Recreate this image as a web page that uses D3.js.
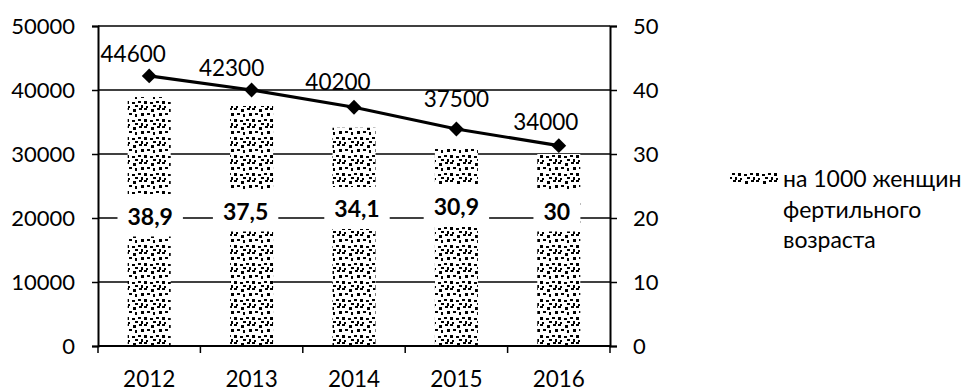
<!DOCTYPE html>
<html><head><meta charset="utf-8">
<script src="https://cdn.jsdelivr.net/npm/d3@7"></script>
<style>body{margin:0;background:#fff}svg{display:block}</style>
</head><body>
<svg id="c" width="965" height="391"></svg>
<script>
const years = ["2012", "2013", "2014", "2015", "2016"];
// births: marker positions as drawn; birthLabels: printed data labels
const births = [42200, 40000, 37300, 33900, 31300];
const birthLabels = [44600, 42300, 40200, 37500, 34000];
// rate per 1000 women of fertile age (bars, right axis)
const rate = [38.9, 37.5, 34.1, 30.9, 30];
const rateLabels = ["38,9", "37,5", "34,1", "30,9", "30"];
const leftTicks = [0, 10000, 20000, 30000, 40000, 50000];
const rightTicks = [0, 10, 20, 30, 40, 50];
const legendLines = ["на 1000 женщин", "фертильного", "возраста"];

const FONT = "Lato, 'Open Sans', sans-serif";
const svg = d3.select("#c");
const L = 98, R = 610, T = 26, B = 346;

const x = d3.scaleBand().domain(years).range([L, R]).paddingInner(0.58).paddingOuter(0.29);
const yL = d3.scaleLinear().domain([0, 50000]).range([B, T]);
const yR = d3.scaleLinear().domain([0, 50]).range([B, T]);
const cx = d => x(d) + x.bandwidth() / 2;

// pattern (confetti)
const defs = svg.append("defs");
const pat = defs.append("pattern").attr("id", "conf").attr("patternUnits", "userSpaceOnUse")
  .attr("width", 18).attr("height", 18);
pat.append("rect").attr("width", 18).attr("height", 18).attr("fill", "#fff");
[[0,0,3,2],[7,1,3,3],[13,0,3,2],[3,5,3,2],[9,6,2,3],[15,5,3,3],
 [0,11,3,3],[6,12,3,2],[12,11,3,2],[2,16,2,2],[9,15,3,2],[15,15,2,3]].forEach(r =>
  pat.append("rect").attr("x", r[0]).attr("y", r[1]).attr("width", r[2]).attr("height", r[3]).attr("fill", "#000"));

// gridlines
svg.append("g").selectAll("line").data(leftTicks.filter(t => t > 0)).join("line")
  .attr("x1", L).attr("x2", R).attr("y1", d => yL(d)).attr("y2", d => yL(d))
  .attr("stroke", "#000").attr("stroke-width", 1.3);

// bars
svg.append("g").selectAll("rect").data(rate).join("rect")
  .attr("x", (d, i) => x(years[i])).attr("width", x.bandwidth())
  .attr("y", d => yR(d)).attr("height", d => B - yR(d))
  .attr("fill", "url(#conf)");

// axes
const axL = svg.append("g").attr("transform", `translate(${L},0)`)
  .call(d3.axisLeft(yL).tickValues(leftTicks).tickSize(6).tickPadding(17).tickFormat(d3.format("d")));
const axR = svg.append("g").attr("transform", `translate(${R},0)`)
  .call(d3.axisRight(yR).tickValues(rightTicks).tickSize(7).tickPadding(16).tickFormat(d3.format("d")));
const axB = svg.append("g").attr("transform", `translate(0,${B})`)
  .call(d3.axisBottom(x).tickSize(0).tickPadding(25));
[axL, axR, axB].forEach(g => {
  g.select(".domain").attr("stroke", "#000").attr("stroke-width", 2);
  g.selectAll(".tick line").attr("stroke", "#000").attr("stroke-width", 1.5);
  g.selectAll("text").attr("font-family", FONT).attr("font-size", 22).attr("fill", "#000");
});
axB.selectAll("text").attr("font-size", 22.5);
axB.select(".domain").attr("d", `M${L},0H${R}`);
const bounds = years.map(d => x(d) - (x.step() - x.bandwidth()) / 2).concat([R]);
svg.append("g").selectAll("line").data(bounds).join("line")
  .attr("x1", d => d).attr("x2", d => d).attr("y1", B).attr("y2", B + 7)
  .attr("stroke", "#000").attr("stroke-width", 1.5);

// rate labels with white boxes
const rateDx = [1, -6, 3, 0, -2];
const rateDy = [-2.5, -7.5, -10, -12, -7.5];
const lg = svg.append("g");
rate.forEach((v, i) => {
  const g = lg.append("g");
  const t = g.append("text").text(rateLabels[i])
    .attr("x", cx(years[i]) + rateDx[i]).attr("y", yR(20) + rateDy[i])
    .attr("text-anchor", "middle").attr("dominant-baseline", "central")
    .attr("font-family", FONT).attr("font-weight", "bold").attr("font-size", 23);
  const bb = t.node().getBBox();
  g.insert("rect", "text").attr("x", bb.x - 10).attr("width", bb.width + 20)
    .attr("y", yR(20) + rateDy[i] - 21).attr("height", 42).attr("fill", "#fff");
});

// line
const pts = births.map((v, i) => [cx(years[i]), yL(v)]);
svg.append("path").attr("d", d3.line()(pts)).attr("fill", "none")
  .attr("stroke", "#000").attr("stroke-width", 3.2);
svg.append("g").selectAll("path").data(pts).join("path")
  .attr("d", d3.symbol(d3.symbolSquare, 110)())
  .attr("transform", d => `translate(${d[0]},${d[1]}) rotate(45)`).attr("fill", "#000");

// line labels
const labDx = [-16, -20, -16, 0, -13];
svg.append("g").selectAll("text").data(birthLabels).join("text")
  .text(d => d).attr("x", (d, i) => cx(years[i]) + labDx[i]).attr("y", d => yL(d) + 1.2)
  .attr("text-anchor", "middle").attr("font-family", FONT).attr("font-size", 22.5).attr("fill", "#000");

// legend
svg.append("rect").attr("x", 730).attr("y", 173).attr("width", 48).attr("height", 12).attr("fill", "url(#conf)");
svg.append("g").selectAll("text").data(legendLines).join("text")
  .text(d => d).attr("x", 783).attr("y", (d, i) => 187 + i * 30.5)
  .attr("font-family", FONT).attr("font-size", 23).attr("fill", "#000");
</script>
</body></html>
